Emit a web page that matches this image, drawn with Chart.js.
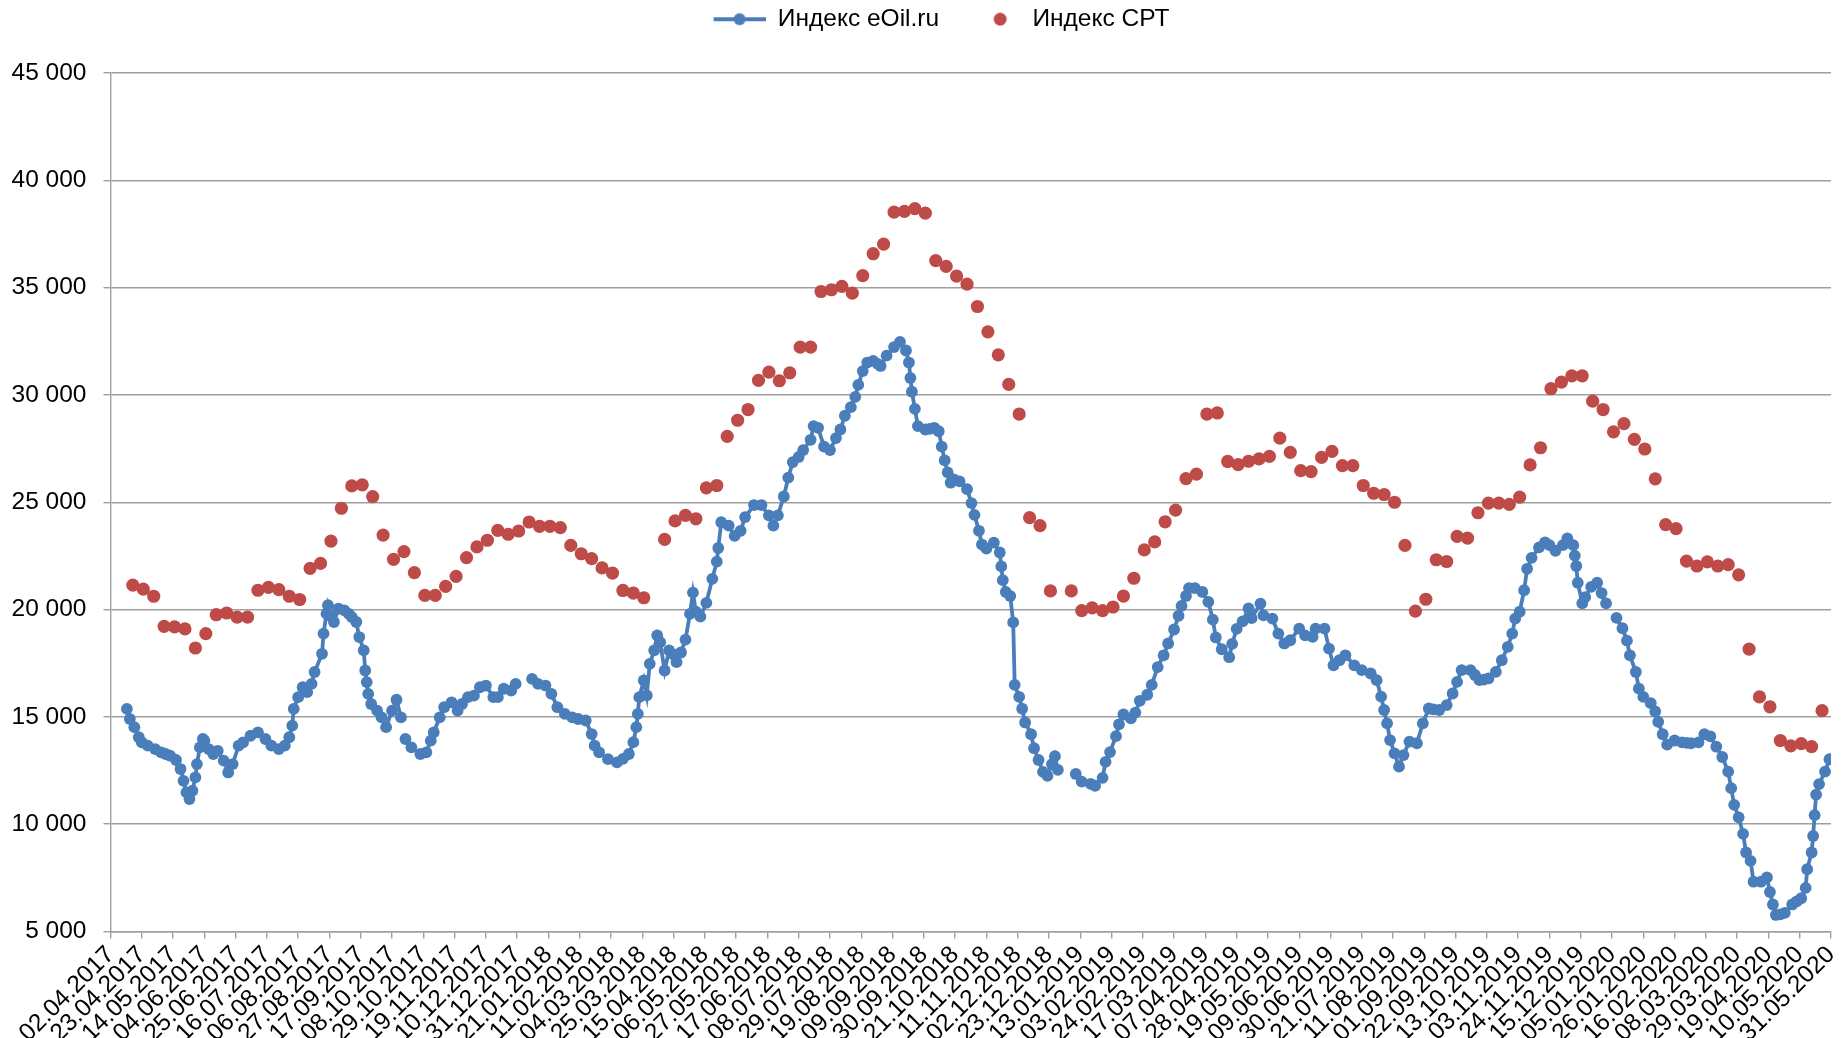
<!DOCTYPE html>
<html>
<head>
<meta charset="utf-8">
<script src="https://cdn.jsdelivr.net/npm/chart.js@4.4.1/dist/chart.umd.min.js"></script>
<style>
html,body{margin:0;padding:0;background:#fff;}
#wrap{width:1841px;height:1038px;}
</style>
</head>
<body>
<div id="wrap"><canvas id="c" width="1841" height="1038"></canvas></div>
<script>
// X axis tick labels (every 21 days starting 02.04.2017)
const xTickLabels = ["02.04.2017","23.04.2017","14.05.2017","04.06.2017","25.06.2017","16.07.2017","06.08.2017","27.08.2017","17.09.2017","08.10.2017","29.10.2017","19.11.2017","10.12.2017","31.12.2017","21.01.2018","11.02.2018","04.03.2018","25.03.2018","15.04.2018","06.05.2018","27.05.2018","17.06.2018","08.07.2018","29.07.2018","19.08.2018","09.09.2018","30.09.2018","21.10.2018","11.11.2018","02.12.2018","23.12.2018","13.01.2019","03.02.2019","24.02.2019","17.03.2019","07.04.2019","28.04.2019","19.05.2019","09.06.2019","30.06.2019","21.07.2019","11.08.2019","01.09.2019","22.09.2019","13.10.2019","03.11.2019","24.11.2019","15.12.2019","05.01.2020","26.01.2020","16.02.2020","08.03.2020","29.03.2020","19.04.2020","10.05.2020","31.05.2020"];
const tickStepDays = 21;

// Y axis ticks
const yTicks = [5000,10000,15000,20000,25000,30000,35000,40000,45000];

// Индекс eOil.ru: day offsets from 02.04.2017 and values (null = no data)
const blueDays = [11,13,16,19,21,25,30,34,37,40,44,47,49,51,53,55,57,58,60,62,63,66,69,72,76,79,82,86,89,94,99,104,108,113,117,120,122,123,126,129,132,135,137,142,143,145,146,148,150,153,157,160,162,165,167,170,171,172,173,175,179,182,185,189,192,195,197,198,202,208,212,215,217,221,224,229,233,236,240,244,248,252,257,260,264,269,272,277,283,287,292,296,300,305,310,314,319,323,325,328,334,340,344,348,351,353,354,355,358,360,362,365,367,369,372,375,378,380,383,386,389,391,393,396,400,404,407,408,410,415,419,423,426,432,437,442,445,448,452,455,458,462,465,470,472,475,479,483,487,490,493,497,500,502,505,508,512,515,517,521,526,530,534,536,537,538,540,542,547,550,553,556,558,560,562,564,566,570,575,578,580,583,585,588,593,597,598,599,601,604,606,607,610,612,614,618,620,623,626,629,632,634,636,640,648,652,658,661,666,668,671,675,677,680,685,688,691,696,699,703,707,710,714,717,719,722,724,728,733,737,740,742,746,751,753,756,760,764,766,772,774,780,784,788,792,798,802,807,809,815,818,821,825,829,835,840,846,850,853,855,857,859,862,865,868,872,877,881,885,888,892,897,901,904,907,913,916,919,922,925,930,934,938,941,943,946,949,951,954,959,963,966,970,975,978,982,983,984,985,988,990,994,998,1001,1004,1007,1011,1015,1018,1020,1024,1026,1029,1034,1037,1039,1042,1045,1050,1055,1058,1061,1066,1070,1074,1078,1082,1086,1088,1090,1093,1096,1098,1101,1103,1108,1112,1114,1116,1118,1121,1124,1129,1132,1135,1138,1139,1142,1143,1144,1145,1147,1151,1154];
const blueValues = [15370,14900,14520,14050,13810,13660,13500,13350,13270,13190,12990,12570,12020,11480,11170,11560,12180,12800,13580,13970,13890,13500,13270,13420,12960,12410,12800,13660,13810,14120,14280,13970,13660,13500,13660,14050,14590,15370,15920,16380,16150,16540,17090,17940,18880,19810,20200,19700,19420,20040,19960,19800,19650,19420,18720,18100,17160,16620,16070,15600,15290,14980,14520,15290,15800,14980,null,13970,13580,13270,13350,13890,14280,14980,15450,15680,15290,15600,15920,15990,16380,16460,15920,15920,16310,16230,16540,null,16770,16540,16460,16070,15450,15140,14980,14900,14830,14200,13660,13350,13030,12880,13040,13270,13820,14520,15140,15920,16700,16000,17470,18100,18800,18480,17160,18100,17900,17550,18000,18600,19800,20790,19900,19670,20310,21430,22230,22870,24070,23910,23430,23670,24310,24870,24870,24390,23910,24390,25270,26150,26870,27110,27430,27910,28550,28470,27590,27430,27990,28390,29030,29430,29910,30470,31110,31510,31590,31450,31350,31830,32230,32470,32070,31510,30790,30150,29350,28550,28390,28420,28470,28310,27590,26950,26390,25910,26070,25970,25610,24960,24410,23670,23030,22840,23120,22660,22010,21370,20820,20630,19400,16490,15930,15380,14740,14190,13540,12990,12440,12250,12800,13170,12530,null,12340,11980,11880,11790,12160,12900,13360,14100,14650,15110,14930,15200,15750,16030,16490,17320,17870,18420,19070,19710,20170,20630,21000,21000,20820,20360,19530,18700,18150,17780,18400,19100,19450,20050,19600,20280,19730,19580,18880,18420,18570,19110,18800,18730,19110,19110,18180,17400,17640,17870,17400,17180,17020,16710,15940,15320,14700,13920,13300,12680,13220,13850,13770,14700,15390,15350,15320,15550,16090,16630,17180,17180,16950,16710,16740,16790,17100,17640,18260,18880,19580,19900,20900,21900,22410,22900,23130,23000,22740,23000,23320,23000,22510,22030,21250,20290,20580,21060,21250,20770,20290,null,19610,19130,18550,17870,17090,16320,15930,15640,15250,14770,14190,13710,13900,13810,13790,13770,13810,14190,14090,13610,13130,12450,11680,10900,10320,9550,8680,8290,7320,7320,7520,6840,6260,5770,5800,5870,6260,6400,6550,7030,7900,8680,9450,10420,11380,11870,12450,13030];

// Индекс СРТ: weekly values starting 17.04.2017 (day offset 15), null = no data
const cptStartDay = 15;
const cptStepDays = 7;
const cptValues = [21136,20950,20620,19220,19190,19100,18210,18880,19760,19840,19650,19650,20900,21030,20930,20620,20470,21920,22150,23190,24720,25760,25810,25265,23470,22340,22700,21720,20660,20660,21080,21550,22420,22920,23230,23690,23510,23660,24080,23880,23880,23820,22990,22600,22370,21940,21700,20890,20770,20550,null,23270,24130,24390,24230,25670,25780,28070,28820,29320,30680,31060,30660,31030,32230,32230,34820,34900,35060,34740,35560,36580,37030,38520,38550,38680,38470,36260,35990,35540,35160,34120,32940,31870,30490,29110,24280,23910,20870,null,20870,19950,20080,19950,20120,20630,21460,22780,23150,24090,24630,26100,26310,29110,29160,26900,26750,26910,27020,27140,27990,27320,26470,26430,27090,27370,26710,26710,25780,25420,25360,25000,22990,19930,20480,22320,22240,23410,23330,24510,24960,24960,24900,25240,26740,27540,30290,30600,30890,30890,29710,29320,28280,28660,27930,27480,26090,23960,23770,22260,22030,22220,22030,22090,21620,18160,15930,15470,13900,13650,13750,13610,15290];

const seriesNames = ["Индекс eOil.ru", "Индекс СРТ"];

const BLUE = '#4A7EBB';
const RED = '#BE4B48';
const GRID = '#9f9f9f';
const FONT = "'Liberation Sans', Arial, sans-serif";
const FS = 24.5;

Chart.defaults.font.family = FONT;
Chart.defaults.font.size = FS;
Chart.defaults.color = '#000';

const bluePts = blueDays.map((d, i) => ({x: d, y: blueValues[i]}));
const cptPts = cptValues.map((v, i) => ({x: cptStartDay + cptStepDays * i, y: v}));

function fmtThousands(v) {
  return String(v).replace(/\B(?=(\d{3})+(?!\d))/g, ' ');
}

const ICON_W = 74;
function lineIcon() {
  const c = document.createElement('canvas');
  c.width = ICON_W; c.height = 14;
  const g = c.getContext('2d');
  g.strokeStyle = BLUE; g.lineWidth = 4;
  g.beginPath(); g.moveTo(ICON_W - 52, 7); g.lineTo(ICON_W, 7); g.stroke();
  g.fillStyle = BLUE;
  g.beginPath(); g.arc(ICON_W - 26, 7, 6, 0, Math.PI * 2); g.fill();
  return c;
}
function dotIcon() {
  const c = document.createElement('canvas');
  c.width = ICON_W; c.height = 14;
  const g = c.getContext('2d');
  g.fillStyle = RED;
  g.beginPath(); g.arc(ICON_W - 20, 7, 6.5, 0, Math.PI * 2); g.fill();
  return c;
}
const icons = [lineIcon(), dotIcon()];

// shift the legend block slightly right, as in the original
const legendShift = {
  id: 'legendShift',
  afterLayout(chart) {
    if (chart.legend) { chart.legend.left += 15; chart.legend.right += 15; }
  }
};

new Chart(document.getElementById('c'), {
  type: 'line',
  data: {
    datasets: [
      {
        type: 'line',
        label: seriesNames[0],
        data: bluePts,
        borderColor: BLUE,
        backgroundColor: BLUE,
        borderWidth: 3.8,
        pointRadius: 5.9,
        pointHoverRadius: 5.9,
        pointBackgroundColor: BLUE,
        pointBorderWidth: 0,
        spanGaps: false,
        tension: 0
      },
      {
        type: 'scatter',
        label: seriesNames[1],
        data: cptPts,
        showLine: false,
        pointRadius: 6.6,
        pointHoverRadius: 6.6,
        backgroundColor: RED,
        borderColor: RED,
        borderWidth: 0
      }
    ]
  },
  plugins: [legendShift],
  options: {
    responsive: false,
    animation: false,
    events: [],
    layout: { padding: { left: 0, right: 10, top: 0, bottom: 0 } },
    plugins: {
      tooltip: { enabled: false },
      legend: {
        display: true,
        position: 'top',
        labels: {
          usePointStyle: true,
          pointStyleWidth: ICON_W,
          padding: 7,
          color: '#000',
          font: { size: FS, family: FONT },
          generateLabels: (chart) => seriesNames.map((n, i) => ({
            text: n,
            pointStyle: icons[i],
            fillStyle: i === 0 ? BLUE : RED,
            strokeStyle: i === 0 ? BLUE : RED,
            lineWidth: 0,
            hidden: false,
            datasetIndex: i,
            fontColor: '#000'
          }))
        }
      },
      title: {
        display: true,
        text: '',
        position: 'top',
        weight: 500,
        padding: { top: 0, bottom: 30.3 },
        font: { size: 1 }
      }
    },
    scales: {
      x: {
        type: 'linear',
        min: 0,
        max: tickStepDays * (xTickLabels.length - 1),
        afterBuildTicks: (s) => { s.ticks = xTickLabels.map((_, i) => ({ value: i * tickStepDays })); },
        afterFit: (s) => { s.height = 106.5; s.paddingRight = 0; s.paddingLeft = 0; },
        ticks: {
          autoSkip: false,
          minRotation: 45,
          maxRotation: 45,
          padding: 2,
          color: '#000',
          font: { size: FS, family: FONT },
          callback: (v) => xTickLabels[Math.round(v / tickStepDays)]
        },
        grid: { drawOnChartArea: false, drawTicks: true, tickLength: 7, color: GRID, lineWidth: 1.4 },
        border: { display: true, color: GRID, width: 1.4 }
      },
      y: {
        type: 'linear',
        min: 5000,
        max: 45000,
        afterBuildTicks: (s) => { s.ticks = yTicks.map(v => ({ value: v })); },
        afterFit: (s) => { s.width = 110.5; },
        ticks: {
          padding: 17,
          color: '#000',
          font: { size: FS, family: FONT },
          callback: (v) => fmtThousands(v)
        },
        grid: { color: GRID, lineWidth: 1.4, tickLength: 7, drawTicks: true },
        border: { display: true, color: GRID, width: 1.4 }
      }
    }
  }
});
</script>
</body>
</html>
